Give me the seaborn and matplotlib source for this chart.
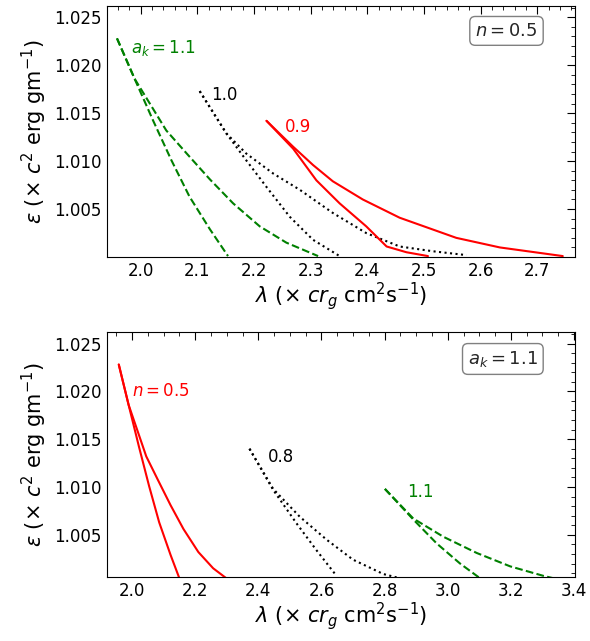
import numpy as np
import pandas as pd
import matplotlib
matplotlib.use("Agg")
import matplotlib.pyplot as plt
import seaborn as sns

# curve = two branches leaving the same cusp point
green_in_x = [1.958, 1.989, 2.022, 2.054, 2.086, 2.122, 2.154]
green_in_y = [1.0228, 1.0186, 1.0142, 1.0101, 1.0063, 1.0029, 1.0001]
green_out_x = [1.958, 1.989, 2.016, 2.045, 2.081, 2.122, 2.163, 2.210, 2.257, 2.313]
green_out_y = [1.0228, 1.0186, 1.0160, 1.0132, 1.0108, 1.0081, 1.0056, 1.0032, 1.0015, 1.0001]

blk1_in_x = [2.104, 2.151, 2.186, 2.222, 2.263, 2.304, 2.351]
blk1_in_y = [1.0173, 1.0129, 1.0101, 1.0073, 1.0042, 1.0018, 1.0001]
blk1_out_x = [2.104, 2.151, 2.186, 2.234, 2.281, 2.339, 2.398, 2.457, 2.516, 2.575]
blk1_out_y = [1.0173, 1.0129, 1.0108, 1.0087, 1.0070, 1.0046, 1.0025, 1.0011, 1.0006, 1.0002]

red1_in_x = [2.222, 2.269, 2.310, 2.351, 2.398, 2.434, 2.469, 2.507]
red1_in_y = [1.0142, 1.0113, 1.0080, 1.0056, 1.0032, 1.0011, 1.0005, 1.0001]
red1_out_x = [2.222, 2.269, 2.304, 2.339, 2.392, 2.457, 2.557, 2.634, 2.745]
red1_out_y = [1.0142, 1.0115, 1.0096, 1.0079, 1.0060, 1.0041, 1.0020, 1.0010, 1.0001]

blk2_in_x = [2.372, 2.447, 2.521, 2.584, 2.648]
blk2_in_y = [1.0140, 1.0097, 1.0062, 1.0034, 1.0007]
blk2_out_x = [2.372, 2.447, 2.531, 2.616, 2.700, 2.796, 2.880]
blk2_out_y = [1.0140, 1.0098, 1.0069, 1.0045, 1.0024, 1.0009, 1.0002]

grn2_in_x = [2.801, 2.891, 2.965, 3.039, 3.113]
grn2_in_y = [1.0098, 1.0066, 1.0041, 1.0020, 1.0002]
grn2_out_x = [2.801, 2.891, 2.986, 3.092, 3.198, 3.304, 3.394]
grn2_out_y = [1.0098, 1.0067, 1.0048, 1.0031, 1.0017, 1.0007, 1.0000]

sns.set_style("white")
plt.rcParams['font.family'] = ['DejaVu Sans']
plt.rcParams['mathtext.fontset'] = 'dejavusans'

fig = plt.figure(figsize=(5.9, 6.41), dpi=100)
ax1 = fig.add_axes([0.181, 0.599, 0.794, 0.392])
ax2 = fig.add_axes([0.181, 0.100, 0.794, 0.382])


def branch(ax, xs, ys, color, ls):
    df = pd.DataFrame({'x': xs, 'y': ys})
    sns.lineplot(data=df, x='x', y='y', ax=ax, color=color, sort=False,
                 linestyle=ls, linewidth=1.5, estimator=None)


branch(ax1, green_in_x, green_in_y, 'green', '--')
branch(ax1, green_out_x, green_out_y, 'green', '--')
branch(ax1, blk1_in_x, blk1_in_y, 'black', ':')
branch(ax1, blk1_out_x, blk1_out_y, 'black', ':')
branch(ax1, red1_in_x, red1_in_y, 'red', '-')
branch(ax1, red1_out_x, red1_out_y, 'red', '-')

branch(ax2, green_in_x, green_in_y, 'red', '-')
branch(ax2, green_out_x, green_out_y, 'red', '-')
branch(ax2, blk2_in_x, blk2_in_y, 'black', ':')
branch(ax2, blk2_out_x, blk2_out_y, 'black', ':')
branch(ax2, grn2_in_x, grn2_in_y, 'green', '--')
branch(ax2, grn2_out_x, grn2_out_y, 'green', '--')

ax1.set_xlim(1.94, 2.767)
ax1.set_ylim(1.0, 1.0262)
ax2.set_xlim(1.92, 3.404)
ax2.set_ylim(1.0006, 1.0262)
ax1.set_xticks(np.arange(2.0, 2.75, 0.1))
ax2.set_xticks(np.arange(2.0, 3.45, 0.2))

bbox = dict(boxstyle='round,pad=0.3', fc='white', ec='gray')
ax1.text(1.982, 1.0213, r'$a_k = 1.1$', color='green', fontsize=12)
ax1.text(2.125, 1.0164, '1.0', color='black', fontsize=12)
ax1.text(2.255, 1.0130, '0.9', color='red', fontsize=12)
ax1.text(0.92, 0.90, r'$n = 0.5$', transform=ax1.transAxes, fontsize=13,
         ha='right', va='center', bbox=bbox)

ax2.text(2.0, 1.0195, r'$n = 0.5$', color='red', fontsize=12)
ax2.text(2.43, 1.0126, '0.8', color='black', fontsize=12)
ax2.text(2.87, 1.0090, '1.1', color='green', fontsize=12)
ax2.text(0.92, 0.89, r'$a_k = 1.1$', transform=ax2.transAxes, fontsize=13,
         ha='right', va='center', bbox=bbox)

for ax in (ax1, ax2):
    ax.set_yticks([1.005, 1.010, 1.015, 1.020, 1.025])
    ax.minorticks_on()
    ax.tick_params(which='both', direction='in', top=True, right=True,
                   labelsize=12, colors='black')
    ax.tick_params(which='major', length=6)
    ax.tick_params(which='minor', length=3)
    for s in ax.spines.values():
        s.set_color('black')
    ax.set_xlabel(r'$\lambda$ ($\times$ $cr_g$ cm$^2$s$^{-1}$)', fontsize=15,
                  labelpad=0, color='black')
    ax.set_ylabel(r'$\epsilon$ ($\times$ $c^2$ erg gm$^{-1}$)', fontsize=15,
                  color='black')

fig.savefig('out.png', dpi=100)
